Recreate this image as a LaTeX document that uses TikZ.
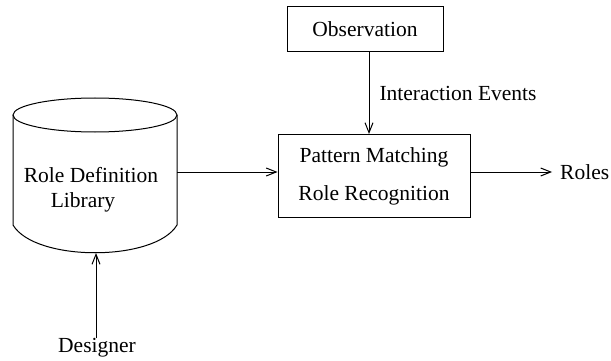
\documentclass[tikz,border=0pt]{standalone}
\usepackage{fontspec}
\setmainfont{Liberation Serif}
\usetikzlibrary{arrows.meta}
\begin{document}
\begin{tikzpicture}[x=1pt,y=-1pt,
  every node/.style={font=\fontsize{21.5}{24}\selectfont, inner sep=0pt},
  line/.style={line width=1pt},
  arr/.style={line width=1pt, -{Straight Barb[length=10pt,width=8pt,line width=1pt]}},
  box/.style={draw, line width=1pt, rectangle}]
\useasboundingbox (0,0) rectangle (611,361);
% library drum
\draw[line] (95,115) ellipse [x radius=82, y radius=17];
\draw[line] (13,115) -- (13,225) .. controls (35,262) and (155,262) .. (177,225) -- (177,115);
\node (lib1) at (91,175) {Role Definition};
\node (lib2) at (83,202) {Library};
\coordinate (libE) at (177,172);
\coordinate (libS) at (96,253);
% boxes
\node[box, minimum width=156, minimum height=45] (obs) at (365,29.5) {Observation};
\node[box, minimum width=192, minimum height=83, align=center,
      font=\fontsize{21.5}{38}\selectfont] (pm) at (374,176) {Pattern Matching\\Role Recognition};
\node[anchor=west] (roles) at (560,172) {Roles};
\node (des) at (97,348) {Designer};
% connectors
\draw[arr] (obs.south -| 369,0) -- node[right=10pt, pos=0.5] {Interaction Events} (pm.north -| 369,0);
\draw[arr] (libE) -- (pm.west |- libE);
\draw[arr, shorten >=8pt] (pm.east |- libE) -- (roles.west);
\draw[arr] (des.north -| libS) -- (libS);
\end{tikzpicture}
\end{document}
